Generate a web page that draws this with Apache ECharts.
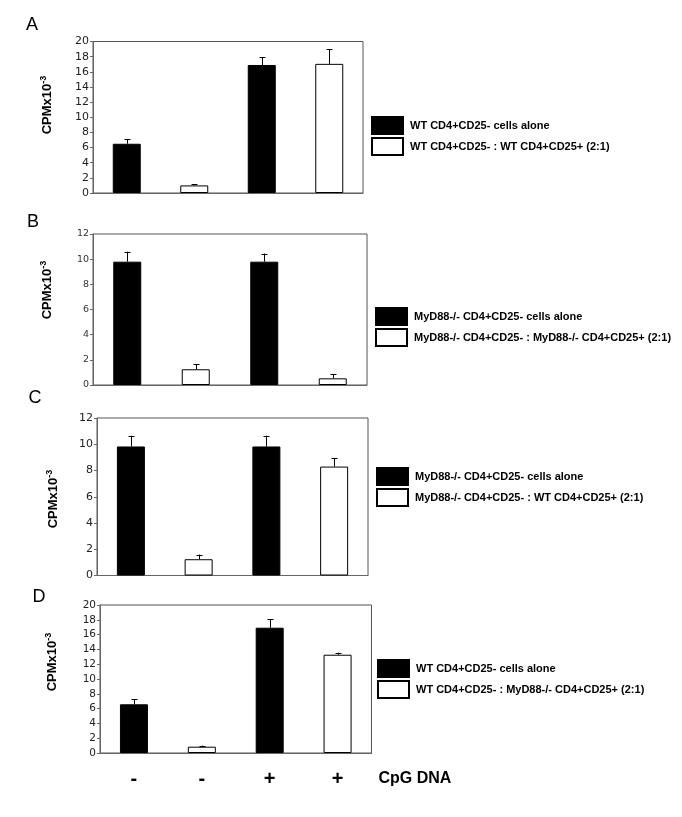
<!DOCTYPE html>
<html>
<head>
<meta charset="utf-8">
<script src="https://cdn.jsdelivr.net/npm/echarts@6/dist/echarts.min.js"></script>
<style>html,body{margin:0;padding:0;background:#fff}#c{width:682px;height:817px}</style>
</head>
<body>
<div id="c"></div>
<script>
// ---- data ----
var categories = ['-', '-', '+', '+'];
var xAxisTitle = 'CpG DNA';
var yTitleMain = 'CPMx10';
var yTitleSup = '-3';
var panelLetters = ['A', 'B', 'C', 'D'];

var namesA = ['WT CD4+CD25- cells alone', 'WT CD4+CD25- : WT CD4+CD25+ (2:1)'];
var namesB = ['MyD88-/- CD4+CD25- cells alone', 'MyD88-/- CD4+CD25- : MyD88-/- CD4+CD25+ (2:1)'];
var namesC = ['MyD88-/- CD4+CD25- cells alone', 'MyD88-/- CD4+CD25- : WT CD4+CD25+ (2:1)'];
var namesD = ['WT CD4+CD25- cells alone', 'WT CD4+CD25- : MyD88-/- CD4+CD25+ (2:1)'];

var blackA = [6.5, null, 16.9, null];
var whiteA = [null, 1.0, null, 17.05];
var sdA = [0.6, 0.15, 1.0, 1.95];

var blackB = [9.8, null, 9.8, null];
var whiteB = [null, 1.25, null, 0.53];
var sdB = [0.8, 0.42, 0.65, 0.32];

var blackC = [9.83, null, 9.83, null];
var whiteC = [null, 1.24, null, 8.3];
var sdC = [0.82, 0.36, 0.82, 0.65];

var blackD = [6.58, null, 16.93, null];
var whiteD = [null, 0.85, null, 13.28];
var sdD = [0.68, 0.14, 1.13, 0.27];

var yMaxA = 20, yMaxB = 12, yMaxC = 12, yMaxD = 20;
var yStep = 2;

// ---- layout / style ----
var panels = [
  {names: namesA, black: blackA, white: whiteA, sd: sdA, max: yMaxA,
   grid: {left: 93, top: 41.5, width: 270, height: 151.5},
   legend: {left: 371, top: 116}, labelSize: 11, labelColor: '#222',
   letter: [32, 25], yname: [47, 105]},
  {names: namesB, black: blackB, white: whiteB, sd: sdB, max: yMaxB,
   grid: {left: 93, top: 234, width: 274, height: 151},
   legend: {left: 375, top: 307}, labelSize: 9.5, labelColor: '#333',
   letter: [33, 222], yname: [47.5, 290]},
  {names: namesC, black: blackC, white: whiteC, sd: sdC, max: yMaxC,
   grid: {left: 97, top: 418, width: 271, height: 157.5},
   legend: {left: 376, top: 467}, labelSize: 11, labelColor: '#222',
   letter: [35, 398], yname: [53, 499]},
  {names: namesD, black: blackD, white: whiteD, sd: sdD, max: yMaxD,
   grid: {left: 100, top: 605, width: 271.5, height: 148},
   legend: {left: 377, top: 659}, labelSize: 10.5, labelColor: '#222',
   letter: [39, 597], yname: [52, 662]}
];

var grids = [], xAxes = [], yAxes = [], series = [], legends = [], graphics = [];

panels.forEach(function (p, i) {
  var last = i === panels.length - 1;
  grids.push({left: p.grid.left, top: p.grid.top, width: p.grid.width, height: p.grid.height,
    show: true, borderColor: '#555', borderWidth: 1, backgroundColor: 'transparent'});
  xAxes.push({
    type: 'category', gridIndex: i, data: categories,
    axisLine: {lineStyle: {color: '#666', width: 1}},
    axisTick: {show: false},
    axisLabel: last ? {show: true, margin: 16, fontSize: 20, fontWeight: 'bold',
      fontFamily: 'Liberation Sans, Arial', color: '#000'} : {show: false},
    name: last ? xAxisTitle : '',
    nameLocation: 'end', nameGap: 7,
    nameTextStyle: {fontSize: 16, fontWeight: 'bold', fontFamily: 'Liberation Sans, Arial',
      color: '#000', verticalAlign: 'top', padding: [18, 0, 0, 0]}
  });
  yAxes.push({
    type: 'value', gridIndex: i, min: 0, max: p.max, interval: yStep,
    splitLine: {show: false},
    axisLine: {show: true, lineStyle: {color: '#666', width: 1}},
    axisTick: {show: true, length: 3, lineStyle: {color: '#666'}},
    axisLabel: {fontSize: p.labelSize, color: p.labelColor, margin: 4,
      fontFamily: 'DejaVu Sans, Verdana'}
  });
  series.push({
    type: 'bar', name: p.names[0], xAxisIndex: i, yAxisIndex: i, data: p.black,
    barWidth: 28, barGap: '-100%',
    itemStyle: {color: '#000', borderColor: '#000', borderWidth: 1}
  });
  series.push({
    type: 'bar', name: p.names[1], xAxisIndex: i, yAxisIndex: i, data: p.white,
    barWidth: 28, barGap: '-100%',
    itemStyle: {color: '#fff', borderColor: '#000', borderWidth: 1}
  });
  var errData = categories.map(function (c, k) {
    var v = p.black[k] != null ? p.black[k] : p.white[k];
    return [k, v, v + p.sd[k]];
  });
  series.push({
    type: 'custom', xAxisIndex: i, yAxisIndex: i, data: errData, z: 5,
    renderItem: function (params, api) {
      var base = api.coord([api.value(0), api.value(1)]);
      var top = api.coord([api.value(0), api.value(2)]);
      var x = Math.round(base[0]) + 0.5;
      return {
        type: 'group',
        children: [
          {type: 'line', shape: {x1: x, y1: base[1], x2: x, y2: top[1]},
            style: {stroke: '#000', lineWidth: 1}},
          {type: 'line', shape: {x1: x - 3, y1: Math.round(top[1]) + 0.5, x2: x + 3, y2: Math.round(top[1]) + 0.5},
            style: {stroke: '#000', lineWidth: 1}}
        ]
      };
    }
  });
  legends.push({
    data: p.names.map(function (n) { return {name: n, icon: 'rect'}; }),
    orient: 'vertical', left: p.legend.left, top: p.legend.top,
    itemWidth: 31, itemHeight: 17, itemGap: 2, padding: 0,
    selectedMode: false,
    textStyle: {fontSize: 11, fontWeight: 'bold', fontFamily: 'Liberation Sans, Arial', color: '#000', padding: [0, 0, 0, 2]}
  });
  graphics.push({
    type: 'text', x: p.letter[0], y: p.letter[1],
    style: {text: panelLetters[i], fontSize: 18, fontFamily: 'Liberation Sans, Arial',
      fill: '#000', align: 'center', verticalAlign: 'middle'}
  });
  graphics.push({
    type: 'text', x: p.yname[0], y: p.yname[1], rotation: Math.PI / 2,
    style: {text: '{m|' + yTitleMain + '}{s|' + yTitleSup + '}', align: 'center', verticalAlign: 'middle',
      rich: {
        m: {fontSize: 13, fontWeight: 'bold', fontFamily: 'Liberation Sans, Arial', fill: '#000', lineHeight: 16},
        s: {fontSize: 9, fontWeight: 'bold', fontFamily: 'Liberation Sans, Arial', fill: '#000', verticalAlign: 'top', lineHeight: 16}
      }}
  });
});

var chart = echarts.init(document.getElementById('c'), null, {renderer: 'canvas'});
chart.setOption({
  animation: false,
  backgroundColor: '#fff',
  grid: grids, xAxis: xAxes, yAxis: yAxes, series: series, legend: legends,
  graphic: graphics
});
</script>
</body>
</html>
